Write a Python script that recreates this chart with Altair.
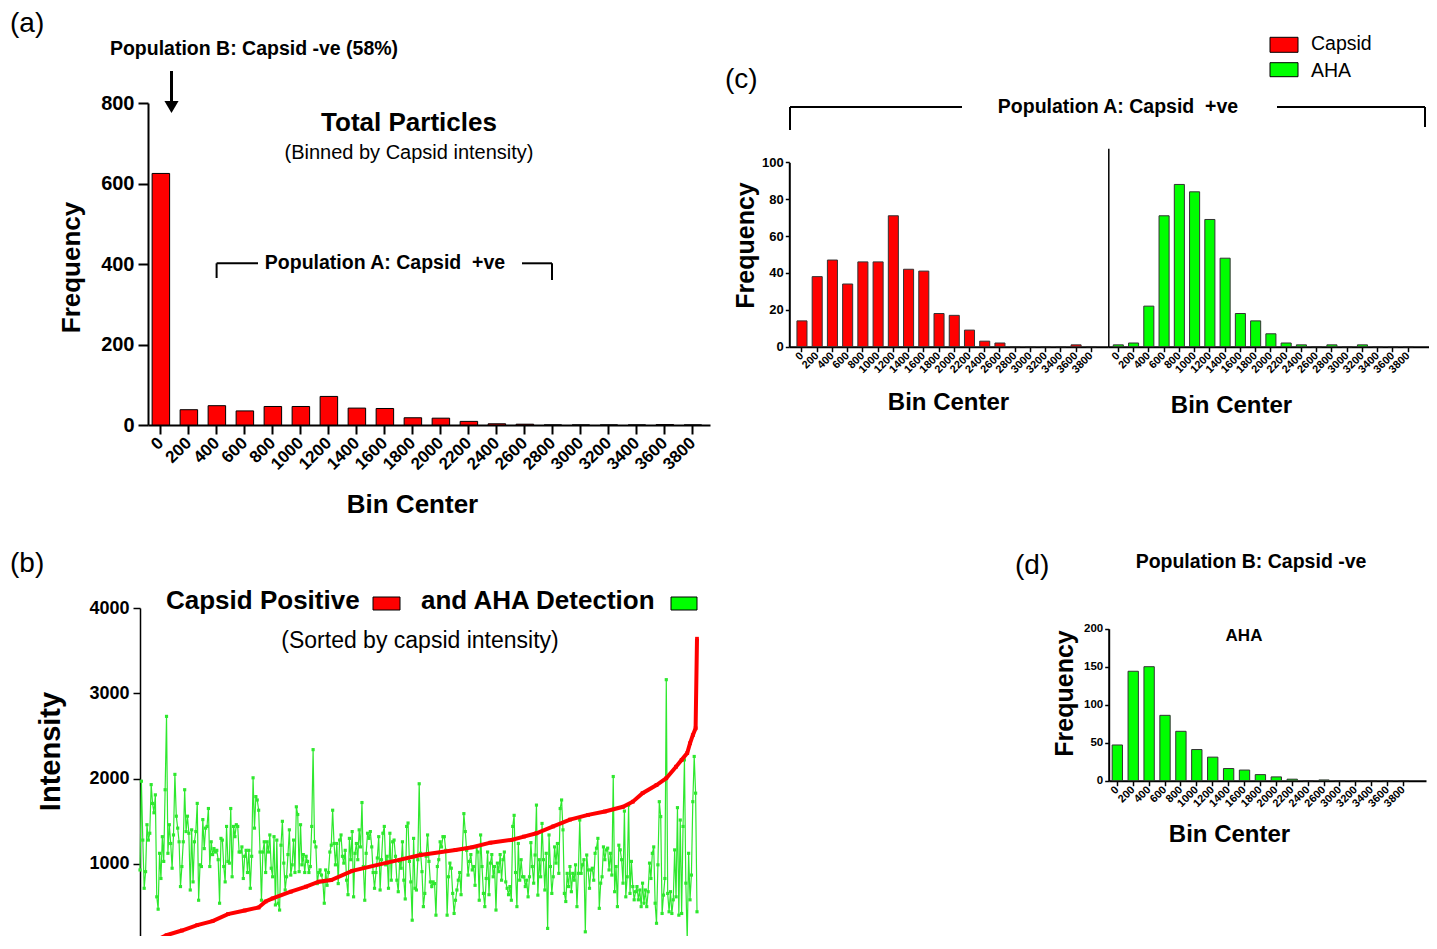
import altair as alt
import pandas as pd

FONT = "Liberation Sans"
RED = "#ff0000"
GREEN = "#00ff00"
LINE_GREEN = "#2ee82e"
W, H = 1421, 928

# ---------------- data ----------------
bin_labels = ["0", "200", "400", "600", "800", "1000", "1200", "1400", "1600", "1800",
              "2000", "2200", "2400", "2600", "2800", "3000", "3200", "3400", "3600", "3800"]
total_freq = [625, 38, 48, 35, 46, 46, 71, 42, 41, 18, 17, 9, 3, 2, 0, 0, 0, 0, 1, 0]
capsid_pos_freq = [14, 38, 47, 34, 46, 46, 71, 42, 41, 18, 17, 9, 3, 2, 0, 0, 0, 0, 1, 0]
aha_pos_freq = [1, 2, 22, 71, 88, 84, 69, 48, 18, 14, 7, 2, 1, 0, 1, 0, 1, 0, 0, 0]
neg_bin_labels = ["0", "200", "400", "600", "800", "1000", "1200", "1400", "1600", "1800",
                  "2000", "2200", "2400", "2600", "3000", "3200", "3400", "3600", "3800"]
aha_neg_freq = [47, 144, 150, 86, 65, 41, 31, 16, 14, 8, 5, 2, 0, 1, 0, 0, 0, 0, 0]

# AHA intensity of each capsid-positive particle, in order of capsid intensity
aha_sorted = [
    930, 1970, 1280, 715, 910, 1460, 1280, 1360, 1930, 1710,
    1600, 1810, 615, 470, 1125, 830, 1320, 1030, 1870, 2730,
    1125, 1460, 1240, 950, 1340, 2050, 1560, 1420, 1260, 735,
    970, 1260, 1870, 1380, 1560, 1360, 695, 1400, 790, 1260,
    1380, 1710, 575, 990, 970, 1520, 1180, 1420, 1440, 1650,
    970, 1260, 1110, 1180, 1140, 1160, 1050, 540, 1300, 1280,
    970, 790, 1440, 1030, 1010, 1650, 850, 1440, 1320, 1460,
    1440, 1140, 1140, 1200, 830, 1090, 1160, 900, 1160, 715,
    1090, 2010, 1420, 1790, 1750, 1630, 1140, 575, 1140, 1260,
    900, 1260, 1140, 1340, 950, 850, 1320, 520, 1280, 540,
    460, 1220, 1500, 1010, 695, 850, 1110, 1400, 870, 990,
    1280, 900, 1670, 1580, 910, 1460, 990, 1110, 900, 1090,
    1030, 900, 970, 1440, 2340, 1260, 1200, 770, 900, 930,
    870,
    790, 540, 930, 750, 900, 1140, 1220, 1630, 1240, 990,
    1240, 770, 1280, 1340, 1090, 1010, 1160, 810, 640, 1300,
    1050, 1380, 615, 1125, 1240, 1050, 1400, 1200, 1720, 970,
    575, 1125, 1360, 1300, 1380, 1200, 900, 715, 900, 1070,
    1320, 695, 1050, 1360, 1440, 990, 1090, 715, 1360, 810,
    1260, 1280, 1090, 810, 675, 1030, 950, 1260, 810, 590,
    1440, 1480, 1030, 790, 341, 1300, 715, 695, 1050, 1940,
    1125, 910, 500, 655, 1090, 1340, 1030, 790, 735, 790,
    770, 400, 970, 1050, 1260, 1200, 1320, 1320, 1160, 400,
    850, 1010, 950, 655, 420, 575, 695, 810, 900, 640,
    1180, 1590, 1380, 1160, 870, 1030, 1110, 930, 970, 750,
    1200, 1140, 575, 1340, 970, 655, 500, 830, 1140, 640,
    1010, 1110, 850, 970, 460, 1010, 910, 1110, 810, 1050,
    1140, 790, 715, 640, 735, 575, 1440, 1570, 900, 500,
    1240, 810, 1050, 850,
    850, 735, 810, 615, 850, 1250, 970, 775, 1105, 1690,
    635, 1050, 850, 1475, 1050, 695, 1125, 245, 1340, 970,
    655, 850, 1200, 1010, 1240, 890, 1650, 1750, 1400, 655,
    560, 890, 735, 970, 675, 890, 810, 990, 500, 890,
    1515, 890, 990, 1050, 205, 1105, 930, 715, 930, 950,
    810, 1125, 1185, 1300, 480, 775, 850, 1200, 1050, 1165,
    1185, 930, 1125, 870, 2025, 675, 970, 500, 1220, 1165,
    1050, 775, 1620, 615, 850, 1690, 655, 1030, 735, 580,
    675, 735, 580, 695, 500, 775, 540, 695, 500, 675,
    1010, 830, 1125, 1200, 540, 305, 990, 1730, 1555, 420,
    635, 830, 3160, 655, 440, 675, 420, 580, 1165, 615,
    1660, 400, 1515, 420, 1440, 2220, 775, 100, 1125, 580,
    870, 1730, 2260, 1830, 440,
]
# capsid intensity (sorted), read at particle ranks
capsid_rank = [0, 8, 19, 30, 41, 52, 63, 75, 85, 90, 95, 108, 119, 128, 137, 152, 177, 201,
               226, 238, 251, 266, 275, 284, 296, 308, 321, 333, 346, 353, 360, 370, 377,
               384, 388, 392, 394, 396, 398, 399]
capsid_sorted = [20, 80, 165, 220, 283, 330, 412, 455, 490, 560, 596, 675, 735, 792, 812,
                 920, 1016, 1106, 1165, 1196, 1250, 1282, 1321, 1360, 1440, 1520, 1575,
                 1615, 1670, 1730, 1830, 1925, 2005, 2140, 2220, 2300, 2415, 2510, 2590, 3640]
particle_rank = list(range(len(aha_sorted)))
n_last = len(aha_sorted) - 1

color_scale = alt.Scale(domain=["Capsid", "AHA"], range=[RED, GREEN])
POP_A = "Population A: Capsid\u00a0 +ve"


def axis(**kw):
    base = dict(labelFont=FONT, labelFontWeight="bold", labelColor="black",
                titleFont=FONT, titleFontWeight="bold", titleColor="black",
                domainColor="black", tickColor="black", grid=False, labelOverlap=False)
    base.update(kw)
    return alt.Axis(**base)


def txt(s, x, y, size, bold=False, align="center", baseline="alphabetic", angle=0):
    return alt.Chart(pd.DataFrame({"t": [s]})).mark_text(
        font=FONT, fontSize=size, fontWeight="bold" if bold else "normal",
        align=align, baseline=baseline, color="black", angle=angle
    ).encode(x=alt.value(x), y=alt.value(y), text="t:N")


ONE = pd.DataFrame({"k": [0]})


def hline(x1, x2, y, w=2):
    return alt.Chart(ONE).mark_rule(color="black", strokeWidth=w).encode(
        x=alt.value(x1), x2=alt.value(x2), y=alt.value(y))


def vline(x, y1, y2, w=2):
    return alt.Chart(ONE).mark_rule(color="black", strokeWidth=w).encode(
        x=alt.value(x), y=alt.value(y1), y2=alt.value(y2))


def swatch(x1, x2, y1, y2, color):
    return alt.Chart(ONE).mark_rect(color=color, stroke="black", strokeWidth=1).encode(
        x=alt.value(x1), x2=alt.value(x2), y=alt.value(y1), y2=alt.value(y2))


layers = []

# ---------------- panel (a) ----------------
df_a = pd.DataFrame({"bin_a": bin_labels, "freq_a": total_freq, "series": "Capsid"})
a_bars = alt.Chart(df_a).mark_bar(stroke="black", strokeWidth=1).encode(
    x=alt.X("bin_a:N", sort=bin_labels,
            scale=alt.Scale(range=[140, 702], paddingInner=0.375, paddingOuter=0.223, align=0.33),
            axis=axis(orient="bottom", offset=417 - H, labelAngle=315, labelAlign="right",
                      labelBaseline="middle", labelFontSize=17, labelPadding=6, tickSize=9,
                      tickWidth=2, domainWidth=2, title="Bin Center", titleFontSize=26,
                      titleX=404, titleY=87, titleAlign="center", titleBaseline="alphabetic")),
    y=alt.Y("freq_a:Q", scale=alt.Scale(domain=[0, 800], range=[417, 95], nice=False),
            axis=axis(orient="left", offset=-140, values=[0, 200, 400, 600, 800],
                      labelFontSize=20, labelPadding=4, tickSize=10, tickWidth=2, domainWidth=2,
                      title="Frequency", titleFontSize=26, titleAngle=270, titleX=-69,
                      titleY=259, titleAlign="center", titleBaseline="alphabetic")),
    color=alt.Color("series:N", scale=color_scale, legend=None),
)
layers += [
    a_bars,
    txt("(a)", 2, 24, 28, align="left"),
    txt("Population B: Capsid -ve (58%)", 246, 47, 19.5, bold=True),
    vline(163.5, 63, 95, w=3),
    alt.Chart(ONE).mark_point(shape="triangle-down", filled=True, size=200, color="black",
                              opacity=1).encode(x=alt.value(163.5), y=alt.value(99)),
    txt("Total Particles", 401, 123, 26, bold=True),
    txt("(Binned by Capsid intensity)", 401, 151, 20),
    hline(208.6, 250, 255.3), vline(208.6, 255.3, 270),
    hline(514, 544, 255.3), vline(544, 255.3, 272),
    txt(POP_A, 377, 261, 19.5, bold=True),
]

# ---------------- panel (b) ----------------
df_g = pd.DataFrame({"rank": particle_rank, "intensity": aha_sorted})
df_r = pd.DataFrame({"rank": capsid_rank, "intensity": capsid_sorted})


def xb():
    return alt.X("rank:Q", scale=alt.Scale(domain=[0, n_last], range=[132, 689], nice=False,
                                           zero=False), axis=None)


def yb(show=False):
    sc = alt.Scale(domain=[0, 4000], range=[941.3, 600], nice=False)
    if show:
        return alt.Y("intensity:Q", scale=sc,
                     axis=axis(orient="left", offset=-132, values=[1000, 2000, 3000, 4000],
                               format="d", labelFontSize=18, labelPadding=4, tickSize=7,
                               tickWidth=1.5, domainWidth=1.5, title="Intensity",
                               titleFontSize=29, titleAngle=270, titleX=-81, titleY=743,
                               titleAlign="center", titleBaseline="alphabetic"))
    return alt.Y("intensity:Q", scale=sc, axis=None)


layers += [
    alt.Chart(df_g).mark_line(color=LINE_GREEN, strokeWidth=1.2).encode(x=xb(), y=yb(True)),
    alt.Chart(df_g).mark_point(shape="square", filled=True, size=10, color=LINE_GREEN,
                               opacity=1).encode(x=xb(), y=yb()),
    alt.Chart(df_r).mark_line(color=RED, strokeWidth=4).encode(x=xb(), y=yb()),
    alt.Chart(df_r).mark_point(shape="square", filled=True, size=14, color=RED,
                               opacity=1).encode(x=xb(), y=yb()),
    txt("(b)", 2, 564, 28, align="left"),
    txt("Capsid Positive", 158, 601, 26, bold=True, align="left"),
    swatch(365, 392, 589, 602, RED),
    txt("and AHA Detection", 413, 601, 26, bold=True, align="left"),
    swatch(663, 689, 589, 602, GREEN),
    txt("(Sorted by capsid intensity)", 412, 640, 23),
]

# ---------------- panel (c) ----------------
df_cl = pd.DataFrame({"bin_cl": bin_labels, "freq_cl": capsid_pos_freq, "series": "Capsid"})
df_cr = pd.DataFrame({"bin_cr": bin_labels, "freq_cr": aha_pos_freq, "series": "AHA"})
c_left = alt.Chart(df_cl).mark_bar(stroke="#333333", strokeWidth=1).encode(
    x=alt.X("bin_cl:N", sort=bin_labels,
            scale=alt.Scale(range=[781.3, 1100.3], paddingInner=0.34, paddingOuter=0.643,
                            align=0.39),
            axis=axis(orient="bottom", offset=338.7 - H, labelAngle=315, labelAlign="right",
                      labelBaseline="middle", labelFontSize=11, labelPadding=2, tickSize=5,
                      tickWidth=1.5, domainWidth=2, title="Bin Center", titleFontSize=24,
                      titleX=940, titleY=63, titleAlign="center", titleBaseline="alphabetic")),
    y=alt.Y("freq_cl:Q", scale=alt.Scale(domain=[0, 100], range=[338.7, 154.3], nice=False),
            axis=axis(orient="left", offset=-781.3, values=[0, 20, 40, 60, 80, 100],
                      labelFontSize=13, labelPadding=2, tickSize=4, tickWidth=1.5, domainWidth=2,
                      title="Frequency", titleFontSize=25, titleAngle=270, titleX=-36,
                      titleY=237, titleAlign="center", titleBaseline="alphabetic")),
    color=alt.Color("series:N", scale=color_scale, legend=None),
)
c_right = alt.Chart(df_cr).mark_bar(stroke="#333333", strokeWidth=1).encode(
    x=alt.X("bin_cr:N", sort=bin_labels,
            scale=alt.Scale(range=[1100.3, 1421], paddingInner=0.34, paddingOuter=0.678,
                            align=0.24),
            axis=axis(orient="bottom", offset=338.7 - H, labelAngle=315, labelAlign="right",
                      labelBaseline="middle", labelFontSize=11, labelPadding=2, tickSize=5,
                      tickWidth=1.5, domainWidth=2, title="Bin Center", titleFontSize=24,
                      titleX=1223, titleY=66, titleAlign="center", titleBaseline="alphabetic")),
    y=alt.Y("freq_cr:Q", scale=alt.Scale(domain=[0, 107.6], range=[338.7, 140.3], nice=False),
            axis=axis(orient="left", offset=-1100.3, ticks=False, labels=False, title="",
                      domainWidth=1.5)),
    color=alt.Color("series:N", scale=color_scale, legend=None),
)
layers += [
    c_left, c_right,
    txt("(c)", 717, 80, 28, align="left"),
    swatch(1262, 1290, 29.3, 44.3, RED),
    txt("Capsid", 1303, 42, 19.5, align="left"),
    swatch(1262, 1290, 54.7, 68.7, GREEN),
    txt("AHA", 1303, 68.5, 19.5, align="left"),
    hline(782, 954, 99), vline(782, 99, 122),
    hline(1269, 1417, 99), vline(1417, 99, 119),
    txt(POP_A, 1110, 105, 19.5, bold=True),
]

# ---------------- panel (d) ----------------
df_d = pd.DataFrame({"bin_d": neg_bin_labels, "freq_d": aha_neg_freq, "series": "AHA"})
d_bars = alt.Chart(df_d).mark_bar(stroke="#333333", strokeWidth=1).encode(
    x=alt.X("bin_d:N", sort=neg_bin_labels,
            scale=alt.Scale(range=[1100.7, 1418], paddingInner=0.35, paddingOuter=0.653,
                            align=0.166),
            axis=axis(orient="bottom", offset=772.7 - H, labelAngle=315, labelAlign="right",
                      labelBaseline="middle", labelFontSize=11, labelPadding=2, tickSize=5,
                      tickWidth=1.5, domainWidth=2, title="Bin Center", titleFontSize=24,
                      titleX=1221, titleY=61, titleAlign="center", titleBaseline="alphabetic")),
    y=alt.Y("freq_d:Q", scale=alt.Scale(domain=[0, 200], range=[772.7, 620.7], nice=False),
            axis=axis(orient="left", offset=-1100.7, values=[0, 50, 100, 150, 200],
                      labelFontSize=11.5, labelPadding=2, tickSize=4, tickWidth=1.5,
                      domainWidth=2, title="Frequency", titleFontSize=25, titleAngle=270,
                      titleX=-36.5, titleY=685, titleAlign="center",
                      titleBaseline="alphabetic")),
    color=alt.Color("series:N", scale=color_scale, legend=None),
)
layers += [
    d_bars,
    txt("(d)", 1007, 566, 28, align="left"),
    txt("Population B: Capsid -ve", 1243, 560, 19.5, bold=True),
    txt("AHA", 1236, 633, 17, bold=True),
]

chart = alt.layer(*layers).resolve_scale(
    x="independent", y="independent", color="independent"
).resolve_axis(
    x="independent", y="independent"
).properties(
    width=W, height=H, padding=0, background="white",
    autosize=alt.AutoSizeParams(type="none"),
).configure_view(strokeWidth=0)

chart.save("out.html", embed_options={"renderer": "svg", "actions": False})
